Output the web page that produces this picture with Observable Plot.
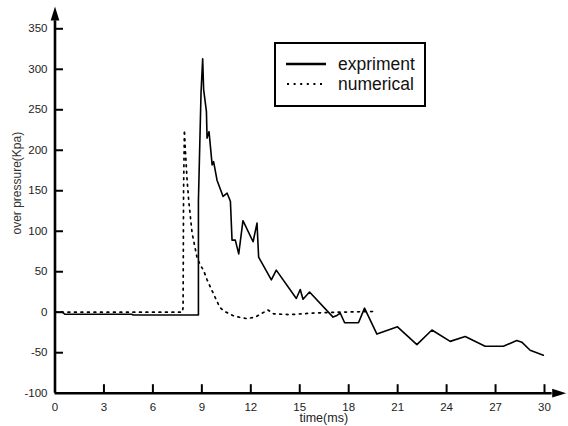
<!DOCTYPE html>
<html>
<head>
<meta charset="utf-8">
<script src="https://cdn.jsdelivr.net/npm/d3@7"></script>
<script src="https://cdn.jsdelivr.net/npm/@observablehq/plot@0.6"></script>
<style>
  html, body { margin: 0; padding: 0; background: #fff; }
  #wrap { position: relative; width: 568px; height: 426px; font-family: Arial, "Liberation Sans", sans-serif; color: #111; }
  #legend { position: absolute; left: 274px; top: 42px; width: 148px; height: 61px; border: 2px solid #000; background: #fff; }
  #legend .row { position: absolute; left: 0; height: 20px; display: flex; align-items: center; }
  #legend svg { display: block; }
  #legend span { font-size: 17.5px; margin-left: 12px; line-height: 20px; }
</style>
</head>
<body>
<div id="wrap">
  <div id="chart"></div>
  <div id="legend">
    <div class="row" style="top:10px;left:10px"><svg width="40" height="20"><line x1="0" x2="40" y1="10" y2="10" stroke="#000" stroke-width="2.5"/></svg><span>expriment</span></div>
    <div class="row" style="top:30px;left:10px"><svg width="40" height="20"><line x1="1" x2="40" y1="10" y2="10" stroke="#000" stroke-width="2" stroke-dasharray="2,4.6"/></svg><span>numerical</span></div>
  </div>
</div>
<script>
// experiment series
const expTime = [0, 0.45, 0.6, 4.7, 4.8, 8.79, 8.79, 8.95, 9.05, 9.11, 9.28, 9.32, 9.44, 9.63, 9.72, 9.93, 10.3, 10.55, 10.75, 10.85, 11.05, 11.26, 11.52, 12.14, 12.38, 12.48, 13.26, 13.56, 14.79, 15.03, 15.2, 15.6, 17.04, 17.28, 17.48, 17.75, 18.6, 18.97, 19.73, 20.99, 22.18, 23.1, 24.22, 25.14, 26.36, 27.48, 28.3, 28.61, 29.12, 29.93];
const expPressure = [0, 0, -2.5, -2.5, -3.5, -3.5, 138, 271, 313, 275, 248, 215, 223, 182, 186, 163, 143, 147, 137, 89, 89, 72, 113, 87, 110, 68, 40, 52, 17, 28, 16, 25, -6, -4, -1, -13, -13, 5, -27, -18, -40, -22, -36, -30, -42, -42, -35, -37, -47, -53];
// numerical series
const numTime = [0, 7.8, 7.85, 7.88, 7.93, 7.99, 8.09, 8.19, 8.4, 8.7, 8.91, 9.1, 9.32, 9.73, 10.1, 10.34, 11.0, 11.77, 12.28, 12.8, 13.03, 13.4, 14.4, 15.85, 17.3, 19.7];
const numPressure = [0, 0, 6, 151, 225, 200, 165, 139, 98, 68, 58, 52, 40, 22, 6, 1.5, -5, -8, -6, 0, 3, -2, -3, -1, 0, 1];
// ticks
const xTicks = [0, 3, 6, 9, 12, 15, 18, 21, 24, 27, 30];
const yTicks = [-100, -50, 0, 50, 100, 150, 200, 250, 300, 350];
// axis arrow ends (data units)
const xAxisEnd = 30.47, xArrow = 30.9;
const yAxisEnd = 360, yArrow = 369;

const expData = expTime.map((t, i) => ({t, p: expPressure[i]}));
const numData = numTime.map((t, i) => ({t, p: numPressure[i]}));

const arrowUp = {draw(ctx, size) { const r = Math.sqrt(size / Math.PI); ctx.moveTo(0, -r); ctx.lineTo(0.62 * r, r); ctx.lineTo(-0.62 * r, r); ctx.closePath(); }};
const arrowRight = {draw(ctx, size) { const r = Math.sqrt(size / Math.PI); ctx.moveTo(r, 0); ctx.lineTo(-r, 0.62 * r); ctx.lineTo(-r, -0.62 * r); ctx.closePath(); }};

const chart = Plot.plot({
  width: 568,
  height: 426,
  marginLeft: 54.5,
  marginRight: 24,
  marginTop: 28.3,
  marginBottom: 33.3,
  style: {fontFamily: "Arial, 'Liberation Sans', sans-serif", fontSize: "11.5px", color: "#222", background: "#fff"},
  x: {domain: [0, 30], label: null},
  y: {domain: [-100, 350], label: null},
  marks: [
    Plot.axisX({ticks: xTicks, tickSize: 0, tickPadding: 10, tickFormat: d => String(d), label: null}),
    Plot.axisY({ticks: yTicks, tickSize: 0, tickPadding: 7.5, tickFormat: d => String(d), label: null}),
    Plot.ruleX(xTicks.slice(1), {x: d => d, y1: -100, y2: -100, insetBottom: 8.5, stroke: "#000", strokeWidth: 2}),
    Plot.ruleY(yTicks.slice(1), {y: d => d, x1: 0, x2: 0, insetRight: -8.5, stroke: "#000", strokeWidth: 2}),
    Plot.ruleY([-100], {x1: 0, x2: xAxisEnd, stroke: "#000", strokeWidth: 2.6}),
    Plot.ruleX([0], {y1: -100, y2: yAxisEnd, stroke: "#000", strokeWidth: 2.6}),
    Plot.dot([{x: 0, y: yArrow}], {x: "x", y: "y", symbol: arrowUp, r: 7, fill: "#000", stroke: "none"}),
    Plot.dot([{x: xArrow, y: -100}], {x: "x", y: "y", symbol: arrowRight, r: 7, fill: "#000", stroke: "none"}),
    Plot.line(numData, {x: "t", y: "p", stroke: "#000", strokeWidth: 1.7, strokeDasharray: "1.8,4.7", curve: "linear"}),
    Plot.line(expData, {x: "t", y: "p", stroke: "#000", strokeWidth: 1.6, curve: "linear"}),
    Plot.text(["time(ms)"], {frameAnchor: "bottom", dx: 24, dy: 25, fontSize: 12.5, lineAnchor: "middle", fill: "#222"}),
    Plot.text(["over pressure(Kpa)"], {frameAnchor: "left", dx: -37.5, dy: 23.5, rotate: -90, fontSize: 12, lineAnchor: "middle", fill: "#333"})
  ]
});
document.getElementById("chart").appendChild(chart);
</script>
</body>
</html>
